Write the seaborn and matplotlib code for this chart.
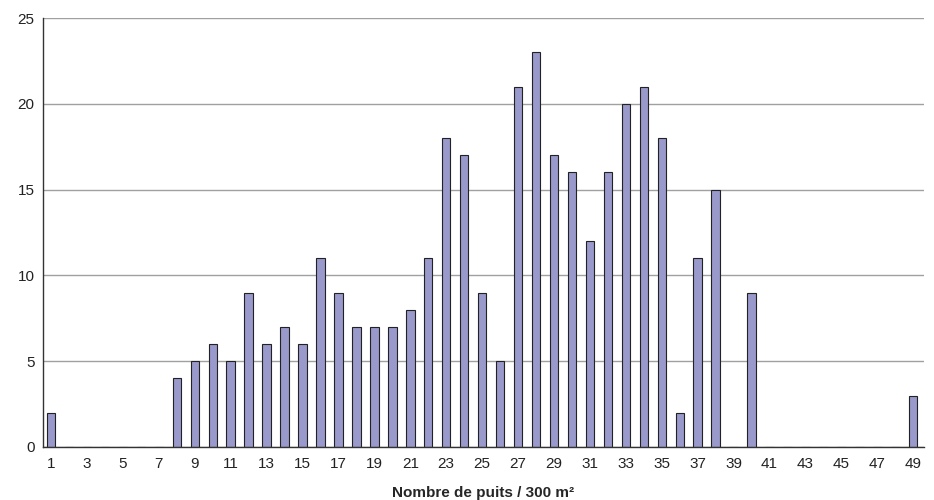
import pandas as pd
import numpy as np
import seaborn as sns
from matplotlib import pyplot as plt

# nombre de puits par 300 m2 et effectifs
puits = list(range(1, 50))
effectifs = [2, 0, 0, 0, 0, 0, 0, 4, 5, 6,
             5, 9, 6, 7, 6, 11, 9, 7, 7, 7,
             8, 11, 18, 17, 9, 5, 21, 23, 17, 16,
             12, 16, 20, 21, 18, 2, 11, 15, 0, 9,
             0, 0, 0, 0, 0, 0, 0, 0, 3]
y_ticks = [0, 5, 10, 15, 20, 25]

df = pd.DataFrame({'puits': puits, 'n': effectifs})

sns.set_style('white')
plt.rcParams['font.family'] = ['Liberation Sans', 'DejaVu Sans']

fig = plt.figure(figsize=(9.34, 5), dpi=100)
ax = fig.add_axes([43/934, 53/500, 881/934, 429/500])
sns.barplot(data=df, x='puits', y='n', order=puits, color='#9999cc',
            saturation=1, width=0.47, edgecolor='#222222', linewidth=0.8, ax=ax)

ax.set_ylim(0, 25)
ax.set_yticks(y_ticks)
ax.set_xlim(-0.45, 48.6)
ax.set_xticks(range(0, 49, 2))
ax.set_xticklabels([str(p) for p in puits[::2]])
ax.yaxis.grid(True, color='#a0a0a0', linewidth=1)
ax.set_axisbelow(True)
for s in ['top', 'right']:
    ax.spines[s].set_visible(False)
for s in ['left', 'bottom']:
    ax.spines[s].set_color('#333333')
    ax.spines[s].set_linewidth(1)
ax.tick_params(axis='y', labelsize=11, colors='#222222', length=0, pad=6)
ax.tick_params(axis='x', labelsize=11, colors='#222222', length=0, pad=7)
ax.set_ylabel('')
ax.set_xlabel('Nombre de puits / 300 m²', fontsize=11, fontweight='bold', labelpad=11)
plt.savefig('out.png', dpi=100)
